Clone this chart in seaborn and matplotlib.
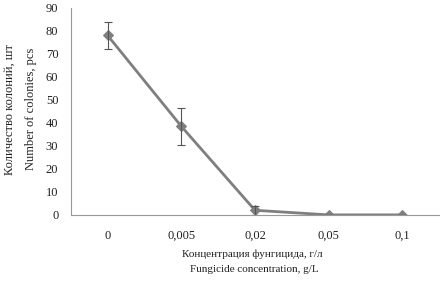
import matplotlib
matplotlib.use("Agg")
import matplotlib.pyplot as plt
import seaborn as sns
import pandas as pd

categories = ["0", "0,005", "0,02", "0,05", "0,1"]
colonies = [78, 38.5, 2, 0, 0]
errors = [6, 8, 2, 0, 0]
yticks = [0, 10, 20, 30, 40, 50, 60, 70, 80, 90]

sns.set_theme(style="white")
plt.rcParams['font.family'] = ['Liberation Serif', 'DejaVu Serif']

fig = plt.figure(figsize=(4.4, 2.82), dpi=100)
ax = fig.add_axes([0.161, 0.238, 0.837, 0.734])

pos = list(range(len(categories)))
df = pd.DataFrame({"x": pos, "y": colonies})
sns.lineplot(data=df, x="x", y="y", ax=ax, color="#7f7f7f", linewidth=2,
             marker="D", markersize=5, markeredgecolor="#7f7f7f")
ax.errorbar(pos, colonies, yerr=errors, fmt="none", ecolor="#555555",
            elinewidth=0.8, capsize=3, capthick=0.8)

ax.set_xlim(-0.5, len(categories) - 0.5)
ax.set_ylim(0, 90)
ax.set_yticks(yticks)
ax.set_xticks(pos)
ax.set_xticklabels(categories)
ax.set_xticks([p + 0.5 for p in pos], minor=True)
ax.tick_params(axis="x", which="major", length=0, labelsize=9, pad=11, colors="#222222")
ax.tick_params(axis="x", which="minor", length=4, width=0.8, color="#999999", direction="out")
ax.tick_params(axis="y", length=4, width=0.8, color="#999999", direction="out", labelsize=9,
               labelcolor="#222222", pad=5)

for s in ["top", "right"]:
    ax.spines[s].set_visible(False)
for s in ["left", "bottom"]:
    ax.spines[s].set_color("#999999")
    ax.spines[s].set_linewidth(0.8)

ax.set_xlabel("")
ax.set_ylabel("")
fig.text(252 / 440, 1 - 254 / 282, "Концентрация фунгицида, г/л",
         fontsize=8, color="#222222", ha="center", va="center")
fig.text(254 / 440, 1 - 269 / 282, "Fungicide concentration, g/L",
         fontsize=8, color="#222222", ha="center", va="center")
fig.text(10 / 440, 1 - 109 / 282, "Количество колоний, шт",
         fontsize=9, color="#222222", ha="center", va="center", rotation=90)
fig.text(31 / 440, 1 - 109 / 282, "Number of colonies, pcs",
         fontsize=9, color="#222222", ha="center", va="center", rotation=90)

fig.savefig("out.png", dpi=100, facecolor="white")
